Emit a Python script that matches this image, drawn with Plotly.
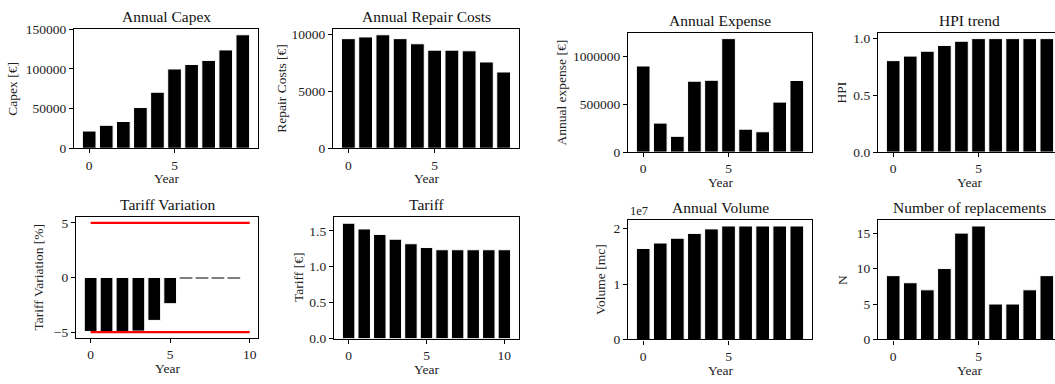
import plotly.graph_objects as go

# ---------------- data ----------------
years10 = list(range(10))
years11 = list(range(11))
capex = [21700, 28900, 33700, 51300, 70600, 99900, 105500, 110700, 123900, 143000]
repair = [9630, 9780, 9970, 9630, 9180, 8620, 8620, 8560, 7580, 6700]
expense = [902000, 304000, 165500, 743000, 753000, 1189000, 240000, 213000, 524000, 750000]
hpi = [0.806, 0.846, 0.889, 0.940, 0.977, 1.0, 1.0, 1.0, 1.0, 1.0]
tariff_var = [-4.94, -5.0, -4.94, -4.91, -3.93, -2.40, -0.02, -0.02, -0.02, -0.04]
tariff = [1.607, 1.527, 1.451, 1.384, 1.321, 1.268, 1.237, 1.237, 1.237, 1.237, 1.237]
volume = [1.641e7, 1.739e7, 1.826e7, 1.913e7, 1.994e7, 2.046e7, 2.046e7, 2.046e7, 2.046e7, 2.046e7]
replacements = [9, 8, 7, 10, 15, 16, 5, 5, 7, 9]
limit_x = [0, 10]
limit_upper = [5, 5]
limit_lower = [-5, -5]

titles = ["Annual Capex", "Annual Repair Costs", "Annual Expense", "HPI trend",
          "Tariff Variation", "Tariff", "Annual Volume", "Number of replacements"]
ylabels = ["Capex [€]", "Repair Costs [€]", "Annual expense [€]", "HPI",
           "Tariff Variation [%]", "Tariff [€]", "Volume [mc]", "N"]
xlabel = "Year"

W, H = 1055, 384
FONT = "Liberation Serif, Times New Roman, serif"

# pixel boxes: left, right, top, bottom (right panels run past the window edge)
boxes = [
    (74, 258, 23, 147),
    (333, 519, 23, 147),
    (628, 812, 27, 151),
    (878, 1055, 27, 151),
    (76, 258, 219, 344),
    (334, 519, 219, 345),
    (628, 812, 222, 346),
    (878, 1055, 222, 346),
]
ytitle_x = [13, 282, 562, 842, 39, 299, 601, 843]
unit = 184 / 10.78
cut_right = -0.89 + (1055 - 878) / unit
xranges = [[-0.89, 9.89], [-0.89, 9.89], [-0.89, 9.89], [-0.89, cut_right],
           [-0.92, 10.52], [-0.94, 10.94], [-0.89, 9.89], [-0.89, cut_right]]
yranges = [[0, max(capex) * 1.05], [0, max(repair) * 1.05], [0, max(expense) * 1.05],
           [0, max(hpi) * 1.05], [-5.5, 5.5], [0, max(tariff) * 1.05],
           [0, max(volume) * 1.05], [0, max(replacements) * 1.05]]
ytickvals = [[0, 50000, 100000, 150000], [0, 5000, 10000], [0, 500000, 1000000],
             [0, 0.5, 1.0], [-5, 0, 5], [0, 0.5, 1.0, 1.5], [0, 1e7, 2e7], [0, 5, 10, 15]]
yticktext = [["0", "50000", "100000", "150000"], ["0", "5000", "10000"],
             ["0", "500000", "1000000"], ["0.0", "0.5", "1.0"], ["−5", "0", "5"],
             ["0.0", "0.5", "1.0", "1.5"], ["0", "1", "2"], ["0", "5", "10", "15"]]
xtickvals = [[0, 5], [0, 5], [0, 5], [0, 5], [0, 5, 10], [0, 5, 10], [0, 5], [0, 5]]

series = [(years10, capex), (years10, repair), (years10, expense), (years10, hpi),
          (years10, tariff_var), (years11, tariff), (years10, volume), (years10, replacements)]


def px(p):
    return p / W


def py(p):
    return 1 - p / H


fig = go.Figure()
layout = dict(width=W, height=H, margin=dict(l=0, r=0, t=0, b=0),
              paper_bgcolor="white", plot_bgcolor="white", showlegend=False,
              font=dict(family=FONT, size=13.5, color="#222"))
annotations = []

for i, (box, (xs, ys)) in enumerate(zip(boxes, series)):
    n = i + 1
    xa = "x" if n == 1 else f"x{n}"
    ya = "y" if n == 1 else f"y{n}"
    l, r, t, b = box
    cut = (r >= W)
    edge_w = [1 if abs(v) > 0.5 else 0 for v in ys]
    fig.add_trace(go.Bar(x=xs, y=ys, xaxis=xa, yaxis=ya, width=0.8,
                         marker=dict(color="black", line=dict(color="white", width=edge_w))))
    layout["xaxis" if n == 1 else f"xaxis{n}"] = dict(
        domain=[px(l), px(r)], anchor=ya, range=xranges[i],
        showline=True, linecolor="black", linewidth=1.2, mirror=True,
        ticks="outside", ticklen=4, tickwidth=1, tickcolor="black",
        tickvals=xtickvals[i], showgrid=False, zeroline=False,
        tickfont=dict(size=13.5))
    layout["yaxis" if n == 1 else f"yaxis{n}"] = dict(
        domain=[py(b), py(t)], anchor=xa, range=yranges[i],
        showline=True, linecolor="black", linewidth=1.2, mirror=not cut,
        ticks="outside", ticklen=4, tickwidth=1, tickcolor="black",
        tickvals=ytickvals[i], ticktext=yticktext[i], showgrid=False, zeroline=False,
        tickfont=dict(size=13.5))
    cx = (l + 92) if cut else (l + r) / 2
    annotations.append(dict(text=titles[i], xref="paper", yref="paper",
                            x=px(cx), y=py(t), xanchor="center", yanchor="bottom",
                            yshift=2, showarrow=False, font=dict(size=15.5, color="#111")))
    annotations.append(dict(text=ylabels[i], xref="paper", yref="paper",
                            x=px(ytitle_x[i]), y=py((t + b) / 2), textangle=-90,
                            xanchor="center", yanchor="middle", showarrow=False,
                            font=dict(size=13.5, color="#222")))
    annotations.append(dict(text=xlabel, xref="paper", yref="paper",
                            x=px(cx), y=py(b + 22), xanchor="center", yanchor="top",
                            showarrow=False, font=dict(size=13.5, color="#222")))

# red limit lines in Tariff Variation panel
for lim in (limit_upper, limit_lower):
    fig.add_trace(go.Scatter(x=limit_x, y=lim, xaxis="x5", yaxis="y5", mode="lines",
                             line=dict(color="red", width=2.2), hoverinfo="skip"))

# offset text for volume
annotations.append(dict(text="1e7", xref="paper", yref="paper", x=px(628), y=py(222),
                        xanchor="left", yanchor="bottom", showarrow=False,
                        font=dict(size=12.5, color="#222")))

layout["annotations"] = annotations
fig.update_layout(**layout)
fig.write_html("out.html", config={"displayModeBar": False},
               post_script="document.body.style.margin='0px';")
